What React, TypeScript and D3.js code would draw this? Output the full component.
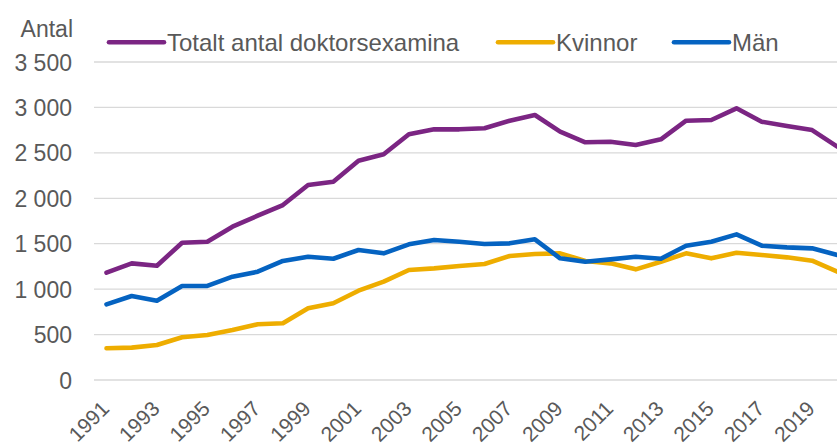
import React, { useEffect, useRef } from 'react';
import * as d3 from 'd3';

const years = d3.range(1991, 2021).map(String);
const totalt = [1181, 1284, 1258, 1511, 1522, 1687, 1808, 1926, 2146, 2183, 2414, 2484, 2704, 2759, 2759, 2770, 2854, 2917, 2733, 2616, 2623, 2586, 2649, 2854, 2862, 2990, 2843, 2795, 2751, 2568];
const kvinnor = [349, 356, 385, 470, 495, 550, 613, 624, 789, 844, 983, 1082, 1211, 1229, 1255, 1277, 1365, 1387, 1394, 1310, 1284, 1218, 1302, 1394, 1339, 1401, 1376, 1350, 1313, 1192];
const man = [833, 924, 873, 1035, 1035, 1137, 1192, 1310, 1357, 1335, 1431, 1394, 1493, 1541, 1522, 1497, 1504, 1548, 1339, 1302, 1328, 1357, 1335, 1478, 1522, 1603, 1478, 1460, 1449, 1376];
const yTicks = [0, 500, 1000, 1500, 2000, 2500, 3000, 3500];
const xLabels = years.filter((_, i) => i % 2 === 0);

const series = [
  { name: 'Totalt antal doktorsexamina', values: totalt, color: '#7B2583' },
  { name: 'Kvinnor', values: kvinnor, color: '#EEAD00' },
  { name: 'Män', values: man, color: '#0563C1' },
];

const W = 837;
const H = 447;
const FONT = "'Liberation Sans', Arial, sans-serif";
const TXT = '#595959';

export default function App() {
  const ref = useRef<SVGSVGElement>(null);

  useEffect(() => {
    document.body.style.margin = '0';
    const svg = d3.select(ref.current);
    svg.selectAll('*').remove();

    const x = d3.scalePoint<string>().domain(years).range([106.5, 837.3]);
    const y = d3.scaleLinear().domain([0, 3500]).range([380, 62]);

    // gridlines
    svg.append('g')
      .selectAll('line')
      .data(yTicks)
      .enter().append('line')
      .attr('x1', 94).attr('x2', W)
      .attr('y1', d => y(d)).attr('y2', d => y(d))
      .attr('stroke', '#d9d9d9')
      .attr('stroke-width', 1.3);

    // y labels
    svg.append('g')
      .selectAll('text')
      .data(yTicks)
      .enter().append('text')
      .attr('x', 72)
      .attr('y', d => y(d) + 8.5)
      .attr('text-anchor', 'end')
      .style('font-family', FONT)
      .style('font-size', '23px')
      .style('fill', TXT)
      .text(d => d3.format(',')(d).replace(',', ' '));

    svg.append('text')
      .attr('x', 73).attr('y', 36.5)
      .attr('text-anchor', 'end')
      .style('font-family', FONT)
      .style('font-size', '23px')
      .style('fill', TXT)
      .text('Antal');

    // x labels, rotated
    svg.append('g')
      .selectAll('text')
      .data(xLabels)
      .enter().append('text')
      .attr('transform', d => `translate(${x(d)! + 4},${410}) rotate(-45)`)
      .attr('text-anchor', 'end')
      .style('font-family', FONT)
      .style('font-size', '21px')
      .style('fill', TXT)
      .text(d => d);

    // lines
    const line = d3.line<number>()
      .x((_, i) => x(years[i])!)
      .y(d => y(d));

    series.forEach(s => {
      svg.append('path')
        .datum(s.values)
        .attr('d', line)
        .attr('fill', 'none')
        .attr('stroke', s.color)
        .attr('stroke-width', 4.6)
        .attr('stroke-linejoin', 'round')
        .attr('stroke-linecap', 'round');
    });

    // legend
    const legendX = [109, 498, 674];
    const leg = svg.append('g');
    series.forEach((s, i) => {
      leg.append('line')
        .attr('x1', legendX[i]).attr('x2', legendX[i] + 55)
        .attr('y1', 42.3).attr('y2', 42.3)
        .attr('stroke', s.color)
        .attr('stroke-width', 4.6)
        .attr('stroke-linecap', 'round');
      leg.append('text')
        .attr('x', legendX[i] + 58)
        .attr('y', 50.5)
        .style('font-family', FONT)
        .style('font-size', '24px')
        .style('fill', TXT)
        .text(s.name);
    });
  }, []);

  return <svg ref={ref} width={W} height={H} style={{ display: 'block', background: '#fff' }} />;
}
